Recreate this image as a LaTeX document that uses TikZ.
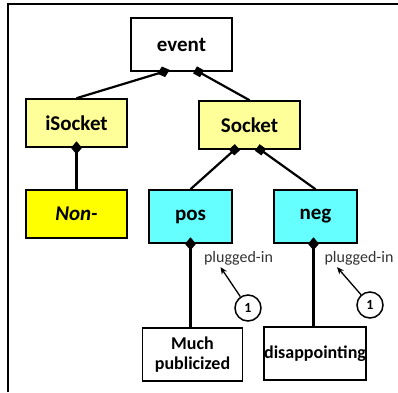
\documentclass[tikz,border=0pt]{standalone}
\usepackage{fontspec}
\setmainfont{Carlito}
\usepackage{xcolor}
\usepackage{tikz}
\usetikzlibrary{arrows.meta}

\definecolor{paleyellow}{HTML}{FFFF99}
\definecolor{fullyellow}{HTML}{FFFF00}
\definecolor{aqua}{HTML}{66FFFF}
\definecolor{notegray}{HTML}{333333}

\begin{document}
\begin{tikzpicture}[x=1pt, y=-1pt]
        \useasboundingbox (0,0) rectangle (398,392);
        \draw[line width=2.4pt] (8,392) -- (8,4) -- (398,4);
        \begin{scope}[every node/.style = {rectangle, draw, line width=1.6pt, inner sep=0pt,
                minimum width=101pt, minimum height=48pt, align=center,
                font=\bfseries\fontsize{21}{22}\selectfont}]
            \node[fill=white, minimum height=53pt] (event) at (181.5,44.5) {event};
            \node[fill=paleyellow] (isocket) at (76.5,123) {iSocket};
            \node[fill=paleyellow] (socket) at (249.5,125) {Socket};
            \node[fill=fullyellow, font=\bfseries\itshape\fontsize{21}{22}\selectfont] (non) at (76.5,214) {Non-};
            \node[fill=aqua, minimum width=83pt, minimum height=53pt] (pos) at (190.5,216.5) {pos};
            \node[fill=aqua, minimum width=83pt, minimum height=53pt] (neg) at (315.5,216.5) {neg};
            \node[fill=white, minimum width=100pt, minimum height=53pt, font=\bfseries\fontsize{18}{20}\selectfont] (much) at (192.5,354.5) {Much\\publicized};
            \node[fill=white, minimum width=100pt, minimum height=53pt, font=\bfseries\fontsize{18}{20}\selectfont] (disap) at (315,353.5) {disappointing};
        \end{scope}
        \begin{scope}[every node/.style = {circle, draw, line width=1.5pt, minimum size=26pt,
                inner sep=0pt, font=\bfseries\fontsize{14}{16}\selectfont}]
            \node (one1) at (248,308) {1};
            \node (one2) at (370,305) {1};
        \end{scope}
        \begin{scope}[every node/.style = {text=notegray, inner sep=2pt, font=\fontsize{16}{17}\selectfont}]
            \node (plug1) at (238.5,258) {plugged-in};
            \node (plug2) at (359,258) {plugged-in};
        \end{scope}
        \begin{scope}[line width=2.2pt]
            \path[{Diamond[length=13pt,width=11pt]}-, shorten <=-6.5pt] ([xshift=-18pt]event.south) edge (isocket.north);
            \path[{Square[length=8pt,width=8pt]}-, shorten <=-4pt] ([xshift=17pt]event.south) edge (socket.north);
            \path[{Diamond[length=13pt,width=11pt]}-, shorten <=-6.5pt] (isocket.south) edge (non.north);
            \path[{Square[length=8pt,width=8pt]}-, shorten <=-4pt] ([xshift=-15pt]socket.south) edge (pos.north);
            \path[{Square[length=8pt,width=8pt]}-, shorten <=-4pt] ([xshift=11pt]socket.south) edge (neg.north);
            \path[{Diamond[length=13pt,width=11pt]}-, shorten <=-6.5pt] (pos.south) edge (pos.south |- much.north);
            \path[{Diamond[length=13pt,width=11pt]}-, shorten <=-6.5pt] ([xshift=-2pt]neg.south) edge ([xshift=-2pt]neg.south |- disap.north);
        \end{scope}
        \begin{scope}[line width=1.3pt, -{Stealth[length=7pt,width=6pt]}]
            \path (one1) edge ([xshift=-18pt]plug1.south);
            \path (one2) edge ([xshift=-22pt]plug2.south);
        \end{scope}
    \end{tikzpicture}
\end{document}
